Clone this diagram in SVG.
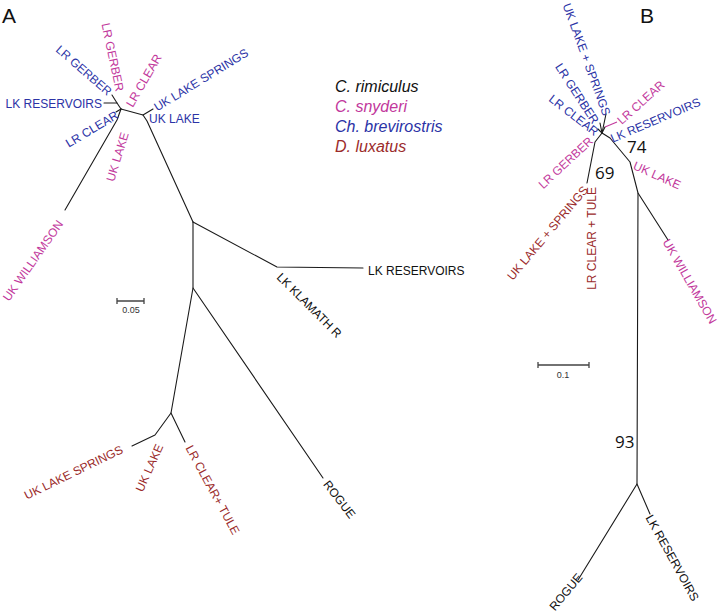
<svg xmlns="http://www.w3.org/2000/svg" width="720" height="614" viewBox="0 0 720 614">
<style>
.e{stroke:#1a1a1a;stroke-width:1.1;fill:none;stroke-linejoin:round;stroke-linecap:round}
.sb{stroke:#444;stroke-width:1.3;fill:none}
.t{font-family:"Liberation Sans",Arial,sans-serif;font-size:12px}
.bl{fill:#2b33a6}.pk{fill:#c2389c}.rd{fill:#9b2b2b}.bk{fill:#111}
.num{font-family:"Open Sans","DejaVu Sans",sans-serif;font-size:17px;fill:#111}
.lg{font-family:"Liberation Sans",Arial,sans-serif;font-size:16px;font-style:italic}
.pl{font-family:"Liberation Sans",Arial,sans-serif;font-size:21px;fill:#111}
.sc{font-family:"Liberation Sans",Arial,sans-serif;font-size:9px;fill:#333}
</style>
<rect width="720" height="614" fill="#fff"/>
<text class="pl" x="2" y="23">A</text>
<text class="pl" x="640" y="23">B</text>

<g id="edges">
  <!-- panel A -->
  <polyline class="e" points="104,103 117,103 121,109"/>
  <polyline class="e" points="112,95 117,103"/>
  <polyline class="e" points="116,112 121,109"/>
  <polyline class="e" points="121,109 143,115 153,109"/>
  <polyline class="e" points="143,115 147,121 193,222"/>
  <polyline class="e" points="121,109 117,120 65,210"/>
  <polyline class="e" points="193,222 277,267 363,268"/>
  <polyline class="e" points="193,222 193,288 323,478"/>
  <polyline class="e" points="193,288 171,413 155,435 132,446"/>
  <polyline class="e" points="171,413 185,442"/>
  <!-- panel B -->
  <polyline class="e" points="598,129 602,133"/>
  <polyline class="e" points="600,123 602,133"/>
  <polyline class="e" points="606,114 602,133"/>
  <polyline class="e" points="602,133 605,127"/>
  <polyline class="e" points="602,133 610,138 630,162 638,193 668,240"/>
  <polyline class="e" points="638,193 637,484 578,580"/>
  <polyline class="e" points="637,484 650,514"/>
  <polyline class="e" points="602,133 595,142 587,183"/>
</g>
<line x1="605" y1="127" x2="617" y2="122" stroke="#c2389c" stroke-width="1.1"/>

<g id="scale-a">
  <path class="sb" d="M117,301H144M117,298V304M144,298V304"/>
  <text class="sc" x="131" y="313" text-anchor="middle">0.05</text>
</g>
<g id="scale-b">
  <path class="sb" d="M538,365H589M538,362V368M589,362V368"/>
  <text class="sc" x="563" y="377.5" text-anchor="middle">0.1</text>
</g>

<g id="legend">
  <text class="lg bk" x="335" y="92">C. rimiculus</text>
  <text class="lg pk" x="335" y="112">C. snyderi</text>
  <text class="lg bl" x="335" y="132">Ch. brevirostris</text>
  <text class="lg rd" x="335" y="152">D. luxatus</text>
</g>

<!-- panel A leaves -->
<g id="a-lk-reservoirs-b"><text class="t bl" transform="translate(102,103.5)" text-anchor="end" dy=".35em">LK RESERVOIRS</text></g>
<g id="a-lr-gerber-b"><text class="t bl" transform="translate(110,93) rotate(41)" text-anchor="end" dy=".35em">LR GERBER</text></g>
<g id="a-lr-gerber-p"><text class="t pk" transform="translate(120,91) rotate(78)" text-anchor="end" dy=".35em">LR GERBER</text></g>
<g id="a-lr-clear-p"><text class="t pk" transform="translate(129,106) rotate(-60)" dy=".35em">LR CLEAR</text></g>
<g id="a-lr-clear-b"><text class="t bl" transform="translate(117,114) rotate(-31)" text-anchor="end" dy=".35em">LR CLEAR</text></g>
<g id="a-uk-lake-springs-b"><text class="t bl" transform="translate(155,108) rotate(-31.5)" dy=".35em">UK LAKE SPRINGS</text></g>
<g id="a-uk-lake-b"><text class="t bl" transform="translate(149,118.5)" dy=".35em">UK LAKE</text></g>
<g id="a-uk-lake-p"><text class="t pk" transform="translate(110,181) rotate(-73)" dy=".35em">UK LAKE</text></g>
<g id="a-uk-williamson"><text class="t pk" transform="translate(5.6,299.6) rotate(-55)" dy=".35em">UK WILLIAMSON</text></g>
<g id="a-lk-reservoirs-k"><text class="t bk" transform="translate(368,271)" dy=".35em">LK RESERVOIRS</text></g>
<g id="a-lk-klamath"><text class="t bk" transform="translate(279,275) rotate(45)" dy=".35em">LK KLAMATH R</text></g>
<g id="a-rogue"><text class="t bk" transform="translate(326,482) rotate(52)" dy=".35em">ROGUE</text></g>
<g id="a-uk-lake-springs-r"><text class="t rd" transform="translate(25,496) rotate(-26)" dy=".35em">UK LAKE SPRINGS</text></g>
<g id="a-uk-lake-r"><text class="t rd" transform="translate(139,491) rotate(-66)" dy=".35em">UK LAKE</text></g>
<g id="a-lr-clear-tule"><text class="t rd" transform="translate(189,446) rotate(61.5)" dy=".35em">LR CLEAR+ TULE</text></g>

<!-- panel B leaves -->
<g id="b-uk-lake-springs-b"><text class="t bl" transform="translate(607,115) rotate(70)" text-anchor="end" dy=".35em">UK LAKE + SPRINGS</text></g>
<g id="b-lr-gerber-b"><text class="t bl" transform="translate(596,122.6) rotate(57)" text-anchor="end" dy=".35em">LR GERBER</text></g>
<g id="b-lr-clear-b"><text class="t bl" transform="translate(597,133) rotate(37.5)" text-anchor="end" dy=".35em">LR CLEAR</text></g>
<g id="b-lr-clear-p"><text class="t pk" transform="translate(619,122) rotate(-42)" dy=".35em">LR CLEAR</text></g>
<g id="b-lk-reservoirs-b"><text class="t bl" transform="translate(611,139) rotate(-23)" dy=".35em">LK RESERVOIRS</text></g>
<g id="b-lr-gerber-p"><text class="t pk" transform="translate(591,139) rotate(-43)" text-anchor="end" dy=".35em">LR GERBER</text></g>
<g id="b-uk-lake-p"><text class="t pk" transform="translate(634,165) rotate(24)" dy=".35em">UK LAKE</text></g>
<g id="b-uk-williamson"><text class="t pk" transform="translate(666,240) rotate(60)" dy=".35em">UK WILLIAMSON</text></g>
<g id="b-uk-lake-springs-r"><text class="t rd" transform="translate(585.6,187.6) rotate(-50)" text-anchor="end" dy=".35em">UK LAKE + SPRINGS</text></g>
<g id="b-lr-clear-tule"><text class="t rd" transform="translate(592,187) rotate(-90)" text-anchor="end" dy=".35em">LR CLEAR + TULE</text></g>
<g id="b-rogue"><text class="t bk" transform="translate(580,575) rotate(-50)" text-anchor="end" dy=".35em">ROGUE</text></g>
<g id="b-lk-reservoirs-k"><text class="t bk" transform="translate(649,515.6) rotate(61)" dy=".35em">LK RESERVOIRS</text></g>

<g id="support">
  <text class="num" x="627" y="153">74</text>
  <text class="num" x="595" y="179">69</text>
  <text class="num" x="615" y="448">93</text>
</g>
</svg>
